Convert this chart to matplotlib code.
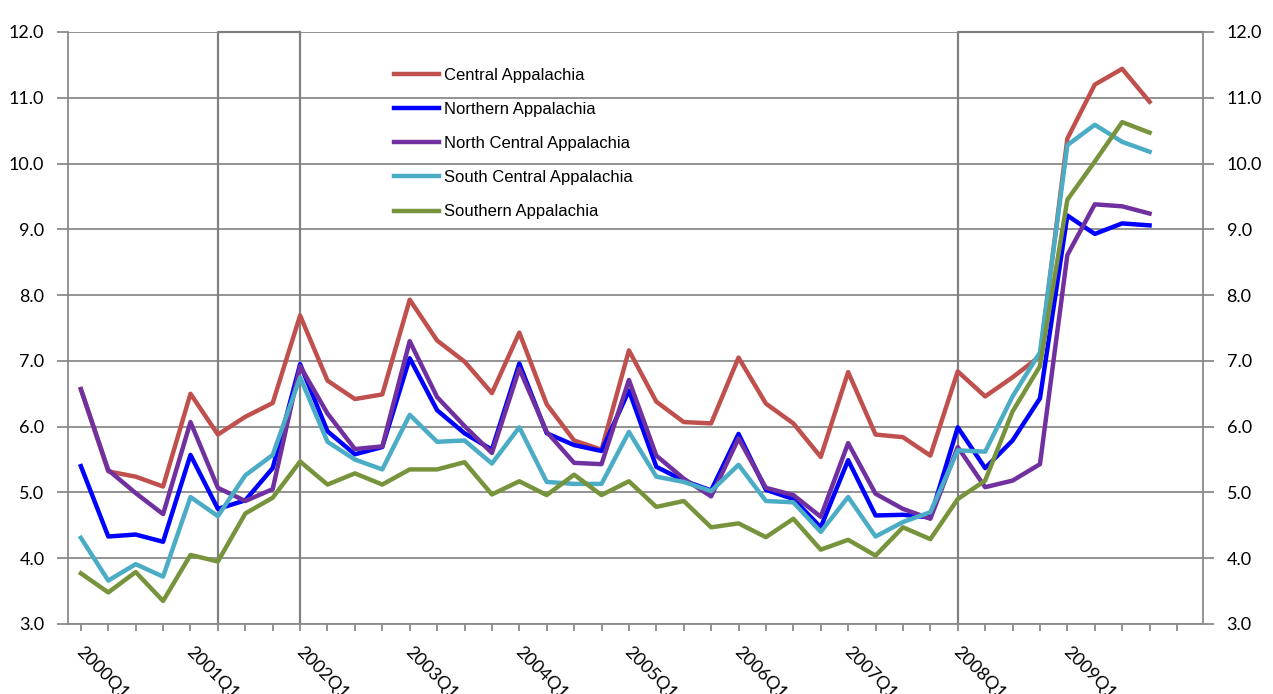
import numpy as np
import matplotlib
matplotlib.use("Agg")
import matplotlib.pyplot as plt
from matplotlib.transforms import ScaledTranslation

# quarterly values, 2000Q1 .. 2009Q4
quarters = [f"{y}Q{q}" for y in range(2000, 2010) for q in range(1, 5)]

central = [6.57, 5.32, 5.24, 5.09, 6.50, 5.88, 6.15, 6.36, 7.69, 6.70,
           6.42, 6.49, 7.93, 7.31, 6.99, 6.51, 7.43, 6.34, 5.79, 5.65,
           7.16, 6.38, 6.07, 6.05, 7.05, 6.35, 6.05, 5.54, 6.83, 5.88,
           5.84, 5.56, 6.84, 6.46, 6.75, 7.07, 10.38, 11.20, 11.44, 10.94]
northern = [5.40, 4.33, 4.36, 4.25, 5.57, 4.75, 4.88, 5.37, 6.95, 5.93,
            5.58, 5.69, 7.04, 6.25, 5.90, 5.65, 6.96, 5.90, 5.72, 5.63,
            6.55, 5.39, 5.18, 5.03, 5.89, 5.04, 4.90, 4.47, 5.49, 4.65,
            4.66, 4.62, 5.99, 5.37, 5.79, 6.43, 9.21, 8.93, 9.09, 9.06]
north_central = [6.57, 5.34, 4.99, 4.67, 6.07, 5.07, 4.87, 5.05, 6.92, 6.20,
                 5.66, 5.70, 7.30, 6.45, 6.01, 5.60, 6.88, 5.92, 5.45, 5.43,
                 6.71, 5.56, 5.21, 4.94, 5.82, 5.07, 4.96, 4.63, 5.75, 4.98,
                 4.75, 4.60, 5.69, 5.08, 5.18, 5.43, 8.61, 9.38, 9.35, 9.24]
south_central = [4.31, 3.66, 3.91, 3.72, 4.93, 4.64, 5.26, 5.57, 6.75, 5.77,
                 5.50, 5.35, 6.18, 5.77, 5.79, 5.44, 5.99, 5.16, 5.13, 5.13,
                 5.92, 5.24, 5.16, 5.02, 5.42, 4.87, 4.85, 4.40, 4.93, 4.33,
                 4.55, 4.70, 5.64, 5.62, 6.46, 7.13, 10.28, 10.59, 10.33, 10.18]
southern = [3.77, 3.48, 3.79, 3.35, 4.05, 3.95, 4.68, 4.92, 5.47, 5.12,
            5.29, 5.12, 5.35, 5.35, 5.46, 4.97, 5.17, 4.96, 5.27, 4.96,
            5.17, 4.78, 4.87, 4.47, 4.53, 4.32, 4.60, 4.13, 4.28, 4.04,
            4.47, 4.29, 4.90, 5.18, 6.23, 6.92, 9.45, 10.03, 10.63, 10.47]

series_names = ["Central Appalachia", "Northern Appalachia", "North Central Appalachia",
                "South Central Appalachia", "Southern Appalachia"]
series_colors = ["#C0504D", "#0000FF", "#7030A0", "#4BACC6", "#77933C"]

# recession boxes (start quarter index, end quarter index)
recessions = [(5, 8), (32, 41)]

x = np.arange(len(quarters))
grid_col = "#8a8a8a"

fig = plt.figure(figsize=(12.73, 6.94), dpi=100)
ax = fig.add_axes([68 / 1273, 1 - 624 / 694, (1203 - 68) / 1273, (624 - 32) / 694])

ax.set_xlim(-0.47, 40.95)
ax.set_ylim(3, 12)

for y in np.arange(3, 12.5, 1):
    ax.axhline(y, color=grid_col, lw=1.3, zorder=1)

for a, b in recessions:
    ax.plot([a, a, min(b, 40.95)], [3, 12, 12], color="#808080", lw=1.6, zorder=1, clip_on=False)
    if b <= 40:
        ax.plot([b, b], [3, 12], color="#808080", lw=1.6, zorder=1)

for vals, name, col in zip([central, northern, north_central, south_central, southern],
                           series_names, series_colors):
    ax.plot(x, vals, color=col, lw=3.2, label=name, zorder=3)

for side in ["left", "right", "bottom", "top"]:
    ax.spines[side].set_color(grid_col)
    ax.spines[side].set_linewidth(1.3)
ax.spines["top"].set_visible(False)

ax.set_yticks(np.arange(3, 12.5, 1))
ax.set_yticklabels([f"{v:.1f}" for v in np.arange(3, 12.5, 1)], family="Lato")
ax.tick_params(axis="y", which="both", left=True, right=True, labelleft=True, labelright=True,
               length=8, width=1.3, color=grid_col, labelsize=13, pad=9)

ticks = list(range(41))
ax.set_xticks(ticks)
labels = [quarters[i] if (i < len(quarters) and i % 4 == 0) else "" for i in ticks]
ax.set_xticklabels(labels, rotation=-45, ha="left", va="top", rotation_mode="anchor", family="Lato")
ax.tick_params(axis="x", length=5, width=1.3, color=grid_col, labelsize=13, pad=9)
shift = ScaledTranslation(4 / 100, 0, fig.dpi_scale_trans)
for lab in ax.get_xticklabels():
    lab.set_transform(lab.get_transform() + shift)

leg = ax.legend(loc="upper left", bbox_to_anchor=(0.2737, 0.965), frameon=False,
                prop={"family": "Liberation Sans", "size": 12}, handlelength=2.75,
                handletextpad=0.25, labelspacing=1.15)

fig.savefig("out.png", dpi=100, facecolor="white")
